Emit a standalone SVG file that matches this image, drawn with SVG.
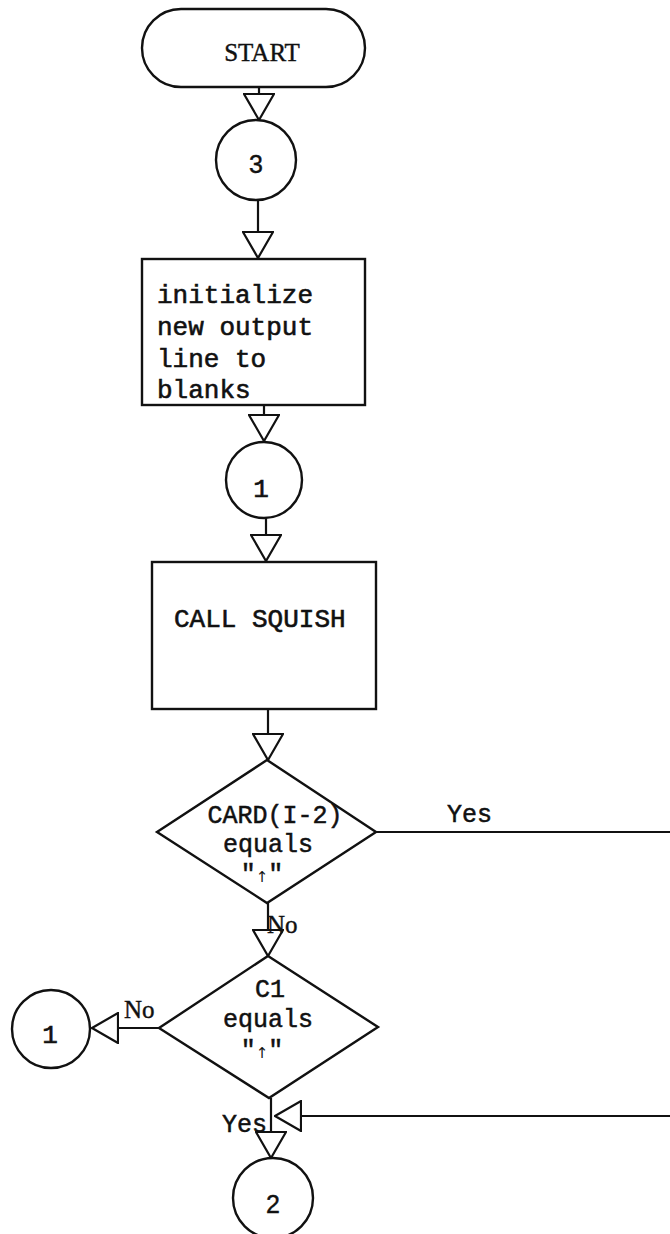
<svg xmlns="http://www.w3.org/2000/svg" width="670" height="1234" viewBox="0 0 670 1234">
<style>
.shape{fill:#fff;stroke:#111;stroke-width:2.4}
.conn{fill:none;stroke:#111;stroke-width:2.2}
.mono{font-family:"Liberation Mono","Courier New",monospace;font-size:26px;fill:#111;stroke:#111;stroke-width:0.6}
.dmono{font-family:"Liberation Mono","Courier New",monospace;font-size:25px;fill:#111;stroke:#111;stroke-width:0.5}
.serif{font-family:"Liberation Serif","Times New Roman",serif;font-size:25px;fill:#111;stroke:#111;stroke-width:0.4}
.sans{font-family:"Liberation Sans",Arial,sans-serif;font-size:25px;fill:#111;stroke:#111;stroke-width:0.4}
.arr{font-family:"DejaVu Sans",sans-serif;font-size:15px;fill:#111;stroke:none}
.mid{text-anchor:middle}
</style>
<defs>
<marker id="tri" viewBox="0 0 28 32" refX="27" refY="16" markerWidth="28" markerHeight="32" markerUnits="userSpaceOnUse" orient="auto">
<path d="M1,1 L27,16 L1,31 Z" fill="#fff" stroke="#111" stroke-width="2.2"/>
</marker>
</defs>
<rect width="670" height="1234" fill="#fff"/>
<g id="connectors">
<line class="conn" x1="259" y1="87" x2="259" y2="120" marker-end="url(#tri)"/>
<line class="conn" x1="258" y1="200" x2="258" y2="258" marker-end="url(#tri)"/>
<line class="conn" x1="264" y1="405" x2="264" y2="441" marker-end="url(#tri)"/>
<line class="conn" x1="266" y1="517" x2="266" y2="561" marker-end="url(#tri)"/>
<line class="conn" x1="268" y1="709" x2="268" y2="760" marker-end="url(#tri)"/>
<line class="conn" x1="268" y1="903" x2="268" y2="956" marker-end="url(#tri)"/>
<line class="conn" x1="376" y1="832" x2="670" y2="832"/>
<line class="conn" x1="159" y1="1028" x2="92" y2="1028" marker-end="url(#tri)"/>
<line class="conn" x1="271" y1="1098" x2="271" y2="1158" marker-end="url(#tri)"/>
<line class="conn" x1="670" y1="1116" x2="275" y2="1116" marker-end="url(#tri)"/>
<text class="dmono" x="447" y="822">Yes</text>
<text class="serif" x="267" y="933">No</text>
<text class="serif" x="124" y="1018">No</text>
<text class="dmono" x="222" y="1132">Yes</text>
</g>
<g id="start">
<rect class="shape" x="142" y="9" width="223" height="78" rx="39" ry="39"/>
<text class="serif mid" x="262" y="61">START</text>
</g>
<g id="conn3">
<circle class="shape" cx="256" cy="160" r="40"/>
<text class="sans mid" x="256" y="173">3</text>
</g>
<g id="init">
<rect class="shape" x="142" y="259" width="223" height="146"/>
<text class="mono" x="157" y="303">initialize</text>
<text class="mono" x="157" y="335">new output</text>
<text class="mono" x="157" y="367">line to</text>
<text class="mono" x="157" y="398">blanks</text>
</g>
<g id="conn1">
<circle class="shape" cx="264" cy="480" r="38"/>
<text class="mono mid" x="261" y="497">1</text>
</g>
<g id="squish">
<rect class="shape" x="152" y="562" width="224" height="147"/>
<text class="mono" x="174" y="627">CALL SQUISH</text>
</g>
<g id="dec1">
<polygon class="shape" points="267,760 376,832 267,903 157,832"/>
<text class="dmono mid" x="275" y="823">CARD(I-2)</text>
<text class="dmono mid" x="268" y="852">equals</text>
<text class="dmono mid" x="262" y="882">"<tspan class="arr">↑</tspan>"</text>
</g>
<g id="dec2">
<polygon class="shape" points="268,956 378,1027 269,1098 159,1028"/>
<text class="dmono mid" x="270" y="997">C1</text>
<text class="dmono mid" x="268" y="1027">equals</text>
<text class="dmono mid" x="262" y="1058">"<tspan class="arr">↑</tspan>"</text>
</g>
<g id="conn1b">
<circle class="shape" cx="51" cy="1029" r="39"/>
<text class="mono mid" x="50" y="1043">1</text>
</g>
<g id="conn2">
<circle class="shape" cx="273" cy="1198" r="40"/>
<text class="sans mid" x="273" y="1213">2</text>
</g>
</svg>
